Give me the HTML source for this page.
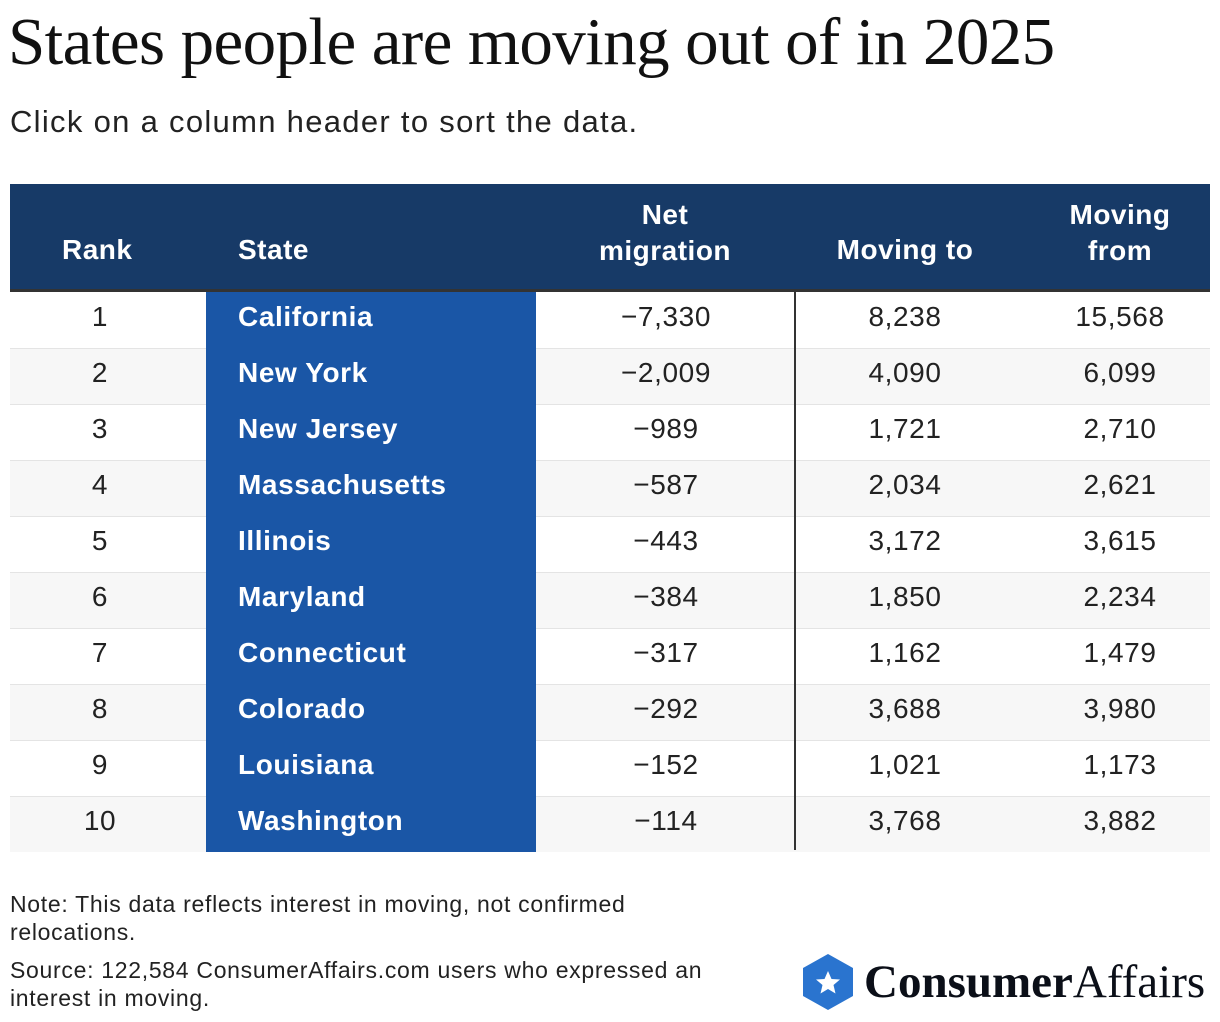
<!DOCTYPE html>
<html><head><meta charset="utf-8"><style>
body{margin:0;width:1220px;height:1022px;background:#fff;position:relative;overflow:hidden;font-family:"Liberation Sans",sans-serif;color:#111}
.a{position:absolute}
h1{position:absolute;left:8px;top:4px;margin:0;font-family:"Liberation Serif",serif;font-size:67px;font-weight:normal;letter-spacing:-0.6px;color:#111;white-space:nowrap}
.sub{left:10px;top:104px;font-size:31px;letter-spacing:1.3px;color:#222}
.hd{background:#173a67;left:10px;top:184px;width:1200px;height:105px}
.hl{position:absolute;color:#fff;font-weight:bold;font-size:28px;line-height:36px;letter-spacing:0.5px}
.cell{position:absolute;font-size:28px;line-height:56px;color:#222;letter-spacing:0.6px}
.note{left:10px;font-size:23px;line-height:28px;color:#222;letter-spacing:0.7px}
</style></head><body>
<h1>States people are moving out of in 2025</h1>
<div class="a sub">Click on a column header to sort the data.</div>
<div class="a hd">
<div class="hl" style="left:52px;top:48px">Rank</div>
<div class="hl" style="left:228px;top:48px">State</div>
<div class="hl" style="left:555px;top:13px;width:200px;text-align:center">Net<br>migration</div>
<div class="hl" style="left:795px;top:48px;width:200px;text-align:center">Moving to</div>
<div class="hl" style="left:1010px;top:13px;width:200px;text-align:center">Moving<br>from</div>
</div>
<div class="a" style="left:10px;top:289px;width:1200px;height:3px;background:#333"></div>
<div id="rows"></div>
<div class="a" style="left:794px;top:292px;width:2px;height:558px;background:#333"></div>
<div class="a note" style="top:890px;width:700px">Note: This data reflects interest in moving, not confirmed relocations.</div>
<div class="a note" style="top:956px;width:740px">Source: 122,584 ConsumerAffairs.com users who expressed an interest in moving.</div>
<svg class="a" style="left:800px;top:952px" width="56" height="60">
<polygon points="28,2 53,16 53,44 28,58 3,44 3,16" fill="#2a74cf"/>
<polygon points="28,19 31.5,27 40,27.5 33.5,33 35.5,41.5 28,37 20.5,41.5 22.5,33 16,27.5 24.5,27" fill="#fff"/>
</svg>
<div class="a" style="left:864px;top:955px;font-family:'Liberation Serif',serif;font-size:47px;letter-spacing:0px;color:#0b0f18"><b>Consumer</b>Affairs</div>
<script>
const ranks=[1,2,3,4,5,6,7,8,9,10];
const states=["California","New York","New Jersey","Massachusetts","Illinois","Maryland","Connecticut","Colorado","Louisiana","Washington"];
const netMigration=["−7,330","−2,009","−989","−587","−443","−384","−317","−292","−152","−114"];
const movingTo=["8,238","4,090","1,721","2,034","3,172","1,850","1,162","3,688","1,021","3,768"];
const movingFrom=["15,568","6,099","2,710","2,621","3,615","2,234","1,479","3,980","1,173","3,882"];
const R=document.getElementById('rows');
function mk(cls,st,txt){const d=document.createElement('div');d.className=cls;d.style.cssText=st;if(txt!==undefined)d.textContent=txt;R.appendChild(d);return d;}
states.forEach((s,i)=>{
 const y=292+i*56;
 const ty=y-3;
 const bg=mk('a','left:10px;top:'+y+'px;width:1200px;height:56px;background:'+(i%2?'#f7f7f7':'#fff')+';border-top:'+(i?'1px solid #e4e4e4':'none')+';box-sizing:border-box');
 
 
 const st=mk('a','left:206px;top:'+y+'px;width:330px;height:56px;background:#1a56a6');
 
 
 const c1=mk('cell','left:50px;width:100px;text-align:center;top:'+ty+'px',ranks[i]);
 
 
 const c2=mk('cell','left:238px;top:'+ty+'px;color:#fff;font-weight:bold',s);
 
 
 const c3=mk('cell','left:566px;width:200px;text-align:center;top:'+ty+'px',netMigration[i]);
 
 
 const c4=mk('cell','left:805px;width:200px;text-align:center;top:'+ty+'px',movingTo[i]);
 
 
 const c5=mk('cell','left:1020px;width:200px;text-align:center;top:'+ty+'px',movingFrom[i]);
 
 
});
</script>
</body></html>
